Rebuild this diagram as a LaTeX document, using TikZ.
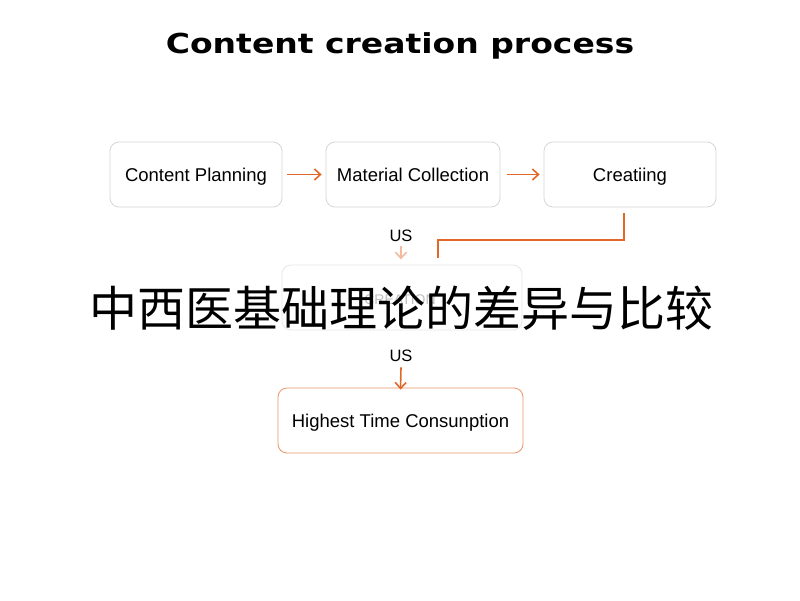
\documentclass[tikz,border=0pt]{standalone}
\usepackage{fontspec}
\setmainfont{Liberation Sans}
\newfontfamily\titlefont{DejaVu Sans}
\newfontfamily\cjk{Noto Sans CJK SC}
\usetikzlibrary{arrows.meta}
\definecolor{orng}{RGB}{226,104,42}
\definecolor{boxline}{RGB}{215,215,215}
\begin{document}
\begin{tikzpicture}[x=1pt,y=-1pt,
  stepbox/.style={draw=boxline,line width=0.8pt,rounded corners=9pt,minimum width=172pt,minimum height=65pt,inner sep=0pt,text height=13pt,text depth=0pt,font=\fontsize{18.5}{20}\selectfont},
  flow/.style={draw=orng,line width=1.6pt,-{Straight Barb[length=6pt,width=11pt]}},
  lbl/.style={font=\fontsize{16.5}{18}\selectfont}]
\useasboundingbox (0,0) rectangle (800,600);
\fill[white] (0,0) rectangle (800,600);
\node (title) at (400,46) {\scalebox{1.2}[1]{\titlefont\bfseries\fontsize{27.5}{32}\selectfont Content creation process}};
\node[stepbox] (plan) at (196,174.5) {Content Planning};
\node[stepbox,minimum width=174pt] (coll) at (413,174.5) {Material Collection};
\node[stepbox] (crea) at (630,174.5) {Creatiing};
\draw[flow] ([xshift=5pt]plan.east) -- ([xshift=-4pt]coll.west);
\draw[flow] ([xshift=7pt]coll.east) -- ([xshift=-4pt]crea.west);
\node[lbl] (us1) at (401,236) {US};
\node[stepbox,draw=boxline!60,minimum width=240pt] (mid) at (402,297.5) {};
\node[text=black!25,font=\fontsize{14}{16}\selectfont] (midtxt) at (400,300) {CREATION};
\coordinate (turn1) at (624,240);
\coordinate (turn2) at (438,240);
\coordinate (cend) at (438,258);
\draw[orng,line width=1.8pt] ([yshift=-6pt]crea.south -| turn1) -- (turn1) -- (turn2) -- (cend);
\draw[draw=orng!45,line width=1.6pt,-{Straight Barb[length=6pt,width=11pt]}] ([yshift=-1pt]us1.south) -- ++(0,13);
\node[font=\cjk\fontsize{48}{50}\selectfont] (cn) at (401,308) {中西医基础理论的差异与比较};
\node[lbl] (us2) at (401,356) {US};
\node[stepbox,draw=orng!70,minimum width=245pt] (high) at (400.5,420.5) {Highest Time Consunption};
\draw[flow] ([yshift=-2pt]us2.south) -- ([yshift=-2pt]high.north);
\end{tikzpicture}
\end{document}
